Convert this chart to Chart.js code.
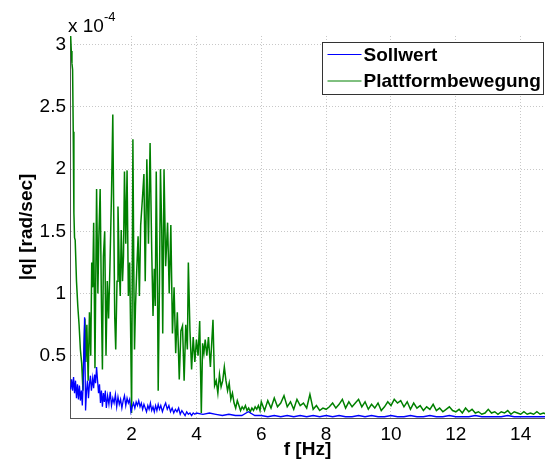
<!DOCTYPE html>
<html>
<head>
<meta charset="utf-8">
<script src="https://cdn.jsdelivr.net/npm/chart.js@4/dist/chart.umd.min.js"></script>
<style>
  html, body { margin: 0; padding: 0; background: #fff; }
  canvas { display: block; }
</style>
</head>
<body>
<canvas id="MyChart" width="545" height="461"></canvas>
<script>
// spectrum amplitudes in units of 1e-4 rad/sec
const seriesNames = ['Sollwert', 'Plattformbewegung'];
const xTicks = [2, 4, 6, 8, 10, 12, 14];
const yTicks = [0.5, 1, 1.5, 2, 2.5, 3];

const greenFreq = [
  0.12, 0.14, 0.16, 0.18, 0.20, 0.22, 0.24, 0.26, 0.30, 0.34, 0.38, 0.42, 0.46, 0.50, 0.53, 0.56,
  0.59, 0.62, 0.66, 0.70, 0.74, 0.77, 0.80, 0.83, 0.87, 0.92, 0.96, 0.99, 1.03, 1.07, 1.10, 1.13,
  1.17, 1.21, 1.25, 1.29, 1.33, 1.38, 1.42, 1.45, 1.48, 1.51, 1.55, 1.58, 1.62, 1.65, 1.68, 1.72,
  1.75, 1.78, 1.82, 1.86, 1.90, 1.94, 1.97, 2.00, 2.04, 2.07, 2.09, 2.12, 2.16, 2.20, 2.24, 2.28,
  2.33, 2.38, 2.42, 2.47, 2.52, 2.57, 2.62, 2.66, 2.70, 2.73, 2.76, 2.80, 2.82, 2.86, 2.89, 2.93,
  2.96, 3.00, 3.05, 3.11, 3.16, 3.21, 3.26, 3.31, 3.36, 3.41, 3.47, 3.52, 3.57, 3.62, 3.67, 3.72,
  3.75, 3.80, 3.85, 3.90, 3.95, 4.00, 4.05, 4.10, 4.15, 4.19, 4.23, 4.27, 4.32, 4.37, 4.43, 4.51,
  4.56, 4.61, 4.66, 4.71, 4.76, 4.81, 4.86, 4.91, 4.96, 5.01, 5.06, 5.11, 5.16, 5.21, 5.26, 5.31,
  5.36, 5.41, 5.46, 5.51, 5.56, 5.61, 5.66, 5.71, 5.76, 5.81, 5.86, 5.91, 5.96,
  6.0, 6.1, 6.2, 6.3, 6.4, 6.5, 6.6, 6.7, 6.8, 6.9, 7.0, 7.1, 7.2, 7.3, 7.4, 7.5, 7.6, 7.7, 7.8, 7.9,
  8.0, 8.1, 8.2, 8.3, 8.4, 8.5, 8.6, 8.7, 8.8, 8.9, 9.0, 9.1, 9.2, 9.3, 9.4, 9.5, 9.6, 9.7, 9.8, 9.9,
  10.0, 10.1, 10.2, 10.3, 10.4, 10.5, 10.6, 10.7, 10.8, 10.9, 11.0, 11.1, 11.2, 11.3, 11.4, 11.5,
  11.6, 11.7, 11.8, 11.9, 12.0, 12.1, 12.2, 12.3, 12.4, 12.5, 12.6, 12.7, 12.8, 12.9, 13.0, 13.1,
  13.2, 13.3, 13.4, 13.5, 13.6, 13.7, 13.8, 13.9, 14.0, 14.1, 14.2, 14.3, 14.4, 14.5, 14.6, 14.7, 14.8
];
const greenVals = [
  3.07, 2.95, 2.85, 2.80, 2.30, 1.65, 1.45, 1.43, 1.10, 0.90, 0.75, 0.55, 0.44, 0.22, 0.55, 0.80,
  0.45, 0.75, 0.30, 0.85, 0.50, 1.25, 1.05, 1.57, 0.40, 1.84, 1.00, 1.45, 1.84, 0.90, 0.39, 1.30,
  1.50, 0.50, 1.10, 0.80, 1.20, 1.80, 2.44, 1.60, 0.81, 0.55, 1.10, 1.70, 1.20, 0.98, 1.51, 1.10,
  1.30, 1.98, 1.40, 1.99, 0.98, 1.25, 0.70, 0.04, 2.24, 1.10, 0.55, 0.90, 1.20, 1.46, 0.98, 1.55,
  1.75, 1.96, 1.10, 2.08, 1.40, 2.21, 1.35, 0.82, 1.20, 0.90, 1.98, 1.00, 0.22, 1.10, 2.00, 1.50,
  0.68, 2.00, 1.22, 1.57, 1.00, 1.55, 0.68, 1.05, 0.52, 0.85, 0.31, 0.70, 0.74, 0.30, 0.75, 0.55,
  1.25, 0.70, 0.39, 0.65, 0.45, 0.63, 0.50, 0.78, 0.04, 0.60, 0.52, 0.63, 0.50, 0.65, 0.41, 0.79,
  0.26, 0.30, 0.20, 0.35, 0.25, 0.30, 0.41, 0.30, 0.22, 0.28, 0.15, 0.20, 0.12, 0.08, 0.14, 0.10,
  0.06, 0.09, 0.07, 0.10, 0.06, 0.08, 0.05, 0.08, 0.06, 0.09, 0.07, 0.10, 0.06,
  0.13, 0.06, 0.14, 0.08, 0.16, 0.09, 0.12, 0.18, 0.09, 0.13, 0.07, 0.15, 0.10, 0.12, 0.08, 0.19, 0.07, 0.10, 0.06, 0.08,
  0.07, 0.09, 0.12, 0.08, 0.11, 0.15, 0.08, 0.13, 0.09, 0.12, 0.15, 0.09, 0.13, 0.07, 0.11, 0.08, 0.12, 0.06, 0.09, 0.13,
  0.10, 0.15, 0.12, 0.14, 0.09, 0.13, 0.07, 0.12, 0.08, 0.10, 0.06, 0.09, 0.07, 0.11, 0.06, 0.08,
  0.05, 0.07, 0.09, 0.06, 0.05, 0.07, 0.04, 0.08, 0.05, 0.07, 0.04, 0.05, 0.03, 0.04, 0.07, 0.04,
  0.05, 0.03, 0.05, 0.04, 0.06, 0.03, 0.05, 0.04, 0.03, 0.05, 0.03, 0.04, 0.03, 0.05, 0.03, 0.04, 0.03
];

const blueFreq = [
  0.12, 0.15, 0.18, 0.21, 0.24, 0.27, 0.30, 0.33, 0.36, 0.39, 0.42, 0.45, 0.48, 0.51, 0.55, 0.58,
  0.61, 0.64, 0.67, 0.70, 0.73, 0.76, 0.80, 0.83, 0.86, 0.89, 0.92, 0.95, 0.98, 1.01, 1.04, 1.07,
  1.10, 1.13, 1.16, 1.19, 1.22, 1.26, 1.30, 1.34, 1.38, 1.42, 1.46, 1.50, 1.54, 1.58, 1.62, 1.66,
  1.70, 1.74, 1.78, 1.82, 1.86, 1.90, 1.94, 1.98, 2.02, 2.06, 2.10, 2.14, 2.18, 2.22, 2.26, 2.30,
  2.34, 2.38, 2.42, 2.46, 2.50, 2.54, 2.58, 2.62, 2.66, 2.70, 2.74, 2.78, 2.82, 2.86, 2.90, 2.95,
  3.00, 3.05, 3.10, 3.15, 3.20, 3.25, 3.30, 3.35, 3.40, 3.45, 3.50, 3.55, 3.60, 3.65, 3.70, 3.75,
  3.80, 3.85, 3.90, 3.95,
  4.0, 4.2, 4.4, 4.6, 4.8, 5.0, 5.2, 5.4, 5.6, 5.8, 6.0, 6.2, 6.4, 6.6, 6.8, 7.0, 7.2, 7.4, 7.6, 7.8,
  8.0, 8.2, 8.4, 8.6, 8.8, 9.0, 9.2, 9.4, 9.6, 9.8, 10.0, 10.2, 10.4, 10.6, 10.8, 11.0, 11.2, 11.4,
  11.6, 11.8, 12.0, 12.2, 12.4, 12.6, 12.8, 13.0, 13.2, 13.4, 13.6, 13.8, 14.0, 14.2, 14.4, 14.6, 14.8
];
const blueVals = [
  0.23, 0.31, 0.22, 0.33, 0.20, 0.30, 0.16, 0.27, 0.15, 0.26, 0.14, 0.22, 0.10, 0.30, 0.81, 0.06,
  0.22, 0.30, 0.16, 0.27, 0.34, 0.22, 0.32, 0.24, 0.35, 0.28, 0.41, 0.30, 0.20, 0.27, 0.12, 0.22,
  0.09, 0.20, 0.13, 0.22, 0.08, 0.18, 0.11, 0.21, 0.10, 0.16, 0.12, 0.19, 0.09, 0.17, 0.11, 0.15,
  0.08, 0.14, 0.18, 0.10, 0.16, 0.12, 0.15, 0.05, 0.09, 0.12, 0.08, 0.13, 0.10, 0.14, 0.09, 0.12,
  0.07, 0.11, 0.08, 0.05, 0.10, 0.07, 0.12, 0.06, 0.09, 0.05, 0.10, 0.06, 0.11, 0.07, 0.10, 0.05,
  0.09, 0.12, 0.07, 0.10, 0.05, 0.08, 0.04, 0.07, 0.05, 0.08, 0.03, 0.06, 0.04, 0.02, 0.05, 0.03,
  0.04, 0.02, 0.04, 0.03,
  0.04, 0.03, 0.04, 0.03, 0.02, 0.03, 0.02, 0.02, 0.05, 0.02, 0.02, 0.01, 0.02, 0.01, 0.02, 0.01, 0.02, 0.01, 0.02, 0.01,
  0.02, 0.01, 0.02, 0.01, 0.01, 0.02, 0.01, 0.02, 0.01, 0.01, 0.02, 0.01, 0.01, 0.02, 0.01, 0.01, 0.02, 0.01,
  0.01, 0.02, 0.01, 0.01, 0.01, 0.02, 0.01, 0.01, 0.01, 0.01, 0.02, 0.01, 0.01, 0.01, 0.01, 0.01, 0.01
];

const FONT = '"Liberation Sans", Arial, sans-serif';

function pairs(xs, ys) {
  return xs.map((x, i) => ({ x: x, y: ys[i] }));
}

// boxed legend inside the plot, top right
const boxLegend = {
  id: 'boxLegend',
  afterDatasetsDraw(chart) {
    const ctx = chart.ctx;
    const x0 = 322.5, y0 = 42.5, w = 221, h = 52;
    ctx.save();
    ctx.fillStyle = '#fff';
    ctx.fillRect(x0, y0, w, h);
    ctx.strokeStyle = '#333';
    ctx.lineWidth = 1;
    ctx.strokeRect(x0, y0, w, h);
    ctx.font = 'bold 19px ' + FONT;
    ctx.textBaseline = 'middle';
    chart.data.datasets.forEach((ds, i) => {
      const yy = y0 + 12 + i * 26.5;
      ctx.strokeStyle = ds.borderColor;
      ctx.lineWidth = 1;
      ctx.beginPath();
      ctx.moveTo(x0 + 5, yy);
      ctx.lineTo(x0 + 39, yy);
      ctx.stroke();
      ctx.fillStyle = '#000';
      ctx.fillText(ds.label, x0 + 41, yy + 1);
    });
    ctx.restore();
  }
};

// exponent label above the y axis
const expLabel = {
  id: 'expLabel',
  afterDraw(chart) {
    const ctx = chart.ctx;
    ctx.save();
    ctx.fillStyle = '#000';
    ctx.textBaseline = 'alphabetic';
    ctx.font = '19px ' + FONT;
    ctx.fillText('x 10', 68, 32);
    const w = ctx.measureText('x 10').width;
    ctx.font = '13px ' + FONT;
    ctx.fillText('-4', 68 + w, 21);
    ctx.restore();
  }
};

const ctx = document.getElementById('MyChart').getContext('2d');
const myChart = new Chart(ctx, {
  type: 'scatter',
  data: {
    datasets: [
      {
        label: seriesNames[0],
        data: pairs(blueFreq, blueVals),
        showLine: true,
        borderColor: '#0000ff',
        borderWidth: 1.3,
        pointRadius: 0,
        tension: 0
      },
      {
        label: seriesNames[1],
        data: pairs(greenFreq, greenVals),
        showLine: true,
        borderColor: '#008000',
        borderWidth: 1.5,
        pointRadius: 0,
        tension: 0
      }
    ]
  },
  options: {
    responsive: false,
    animation: false,
    devicePixelRatio: 1,
    layout: { padding: { top: 36, right: 0, left: 0, bottom: 0 } },
    plugins: {
      legend: { display: false },
      tooltip: { enabled: false }
    },
    scales: {
      x: {
        type: 'linear',
        min: 0.1,
        max: 14.75,
        afterBuildTicks: s => { s.ticks = xTicks.map(v => ({ value: v })); },
        afterFit: s => { s.height = 43; },
        ticks: {
          color: '#000',
          font: { family: FONT, size: 19 },
          padding: 5,
          maxRotation: 0,
          callback: v => String(v)
        },
        grid: { color: '#c8c8c8', lineWidth: 1, drawTicks: false },
        border: { display: true, color: '#555', width: 1, dash: [1, 2] },
        title: {
          display: true,
          text: 'f [Hz]',
          color: '#000',
          font: { family: FONT, size: 19, weight: 'bold' },
          padding: { top: 0, bottom: 0 }
        }
      },
      y: {
        type: 'linear',
        min: 0,
        max: 3.07,
        afterBuildTicks: s => { s.ticks = yTicks.map(v => ({ value: v })); },
        afterFit: s => { s.width = 70; },
        ticks: {
          color: '#000',
          font: { family: FONT, size: 19 },
          padding: 4,
          callback: v => String(v)
        },
        grid: { color: '#c8c8c8', lineWidth: 1, drawTicks: false },
        border: { display: true, color: '#555', width: 1, dash: [1, 2] },
        title: {
          display: true,
          text: '|q| [rad/sec]',
          color: '#000',
          font: { family: FONT, size: 19, weight: 'bold' },
          padding: { top: 15, bottom: 0 }
        }
      }
    }
  },
  plugins: [boxLegend, expLabel]
});
</script>
</body>
</html>
